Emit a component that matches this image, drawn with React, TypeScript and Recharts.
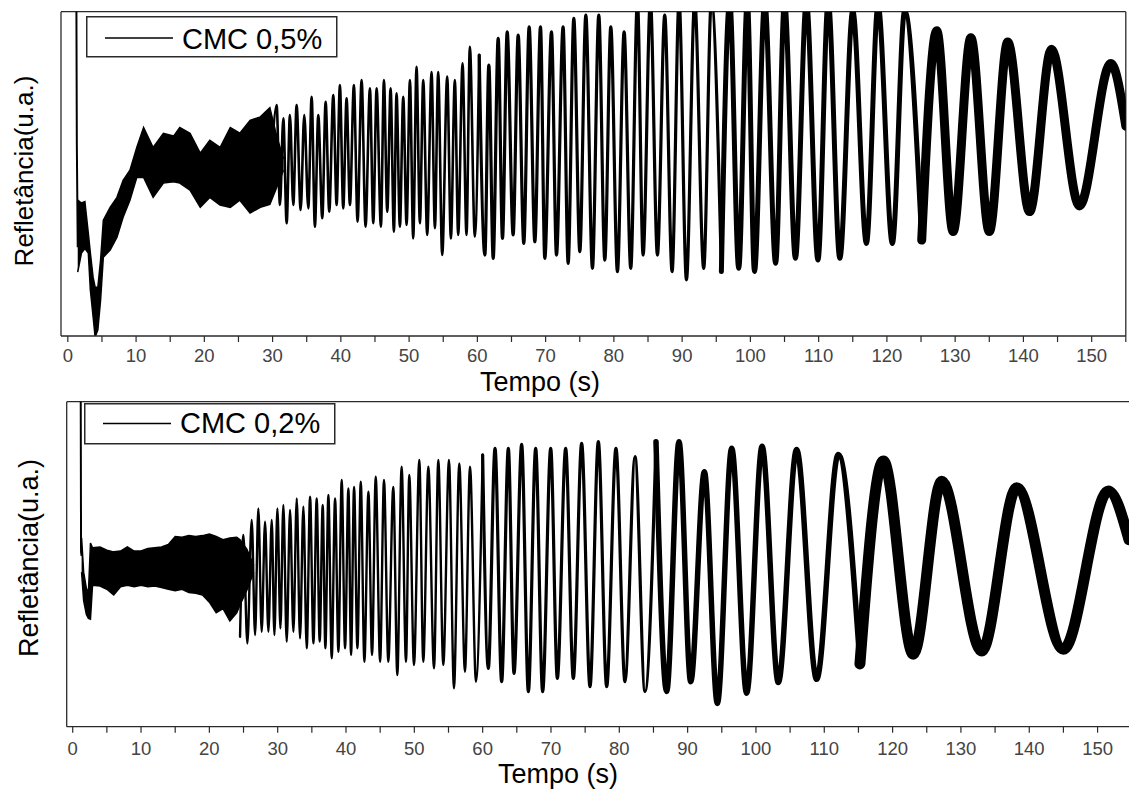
import React from "react";
import { ComposedChart, Line, Area, XAxis, YAxis, ReferenceLine, Legend } from "recharts";

const FONT = "'Liberation Sans', Arial, sans-serif";
const AXIS = "#2a2a2a";

// ---------- CMC 0,5% (upper panel) ----------
const startT05 = [1.25, 1.32, 1.45];
const startV05 = [24, 13.2, 6.0];

const bandT05 = [1.45, 2.0, 2.5, 3.0, 3.3, 3.7, 4.0, 4.4, 4.8, 5.2, 6.2, 7.2, 8.1, 9.1, 10.1, 11.1, 12.5, 14.0, 15.5, 16.4, 17.9, 19.4, 20.8, 22.3, 23.8, 25.2, 26.7, 28.2, 29.6, 30.6, 31.6];
const bandLo05 = [4.25, 5.6, 5.9, 5.6, 3.0, 1.15, -0.3, 0.2, 2.3, 5.3, 5.8, 6.7, 8.1, 9.3, 10.9, 10.9, 9.5, 10.5, 10.6, 10.5, 10.0, 8.8, 9.5, 8.96, 8.8, 9.3, 8.4, 8.8, 9.0, 10.2, 11.4];
const bandHi05 = [9.3, 9.1, 9.2, 7.0, 5.6, 3.9, 3.2, 3.2, 5.1, 7.9, 8.8, 9.5, 10.7, 11.4, 13.0, 14.4, 13.0, 14.0, 13.8, 14.4, 14.0, 12.6, 13.5, 13.0, 14.4, 14.0, 14.9, 15.15, 15.8, 13.8, 12.2];

// peaks and troughs
const oscT05 = [29.62, 30.59, 31.08, 31.57, 32.06, 32.54, 33.03, 33.52, 34.11, 34.64, 35.23, 35.72, 36.2, 36.69, 37.28, 37.77, 38.3, 38.89, 39.38, 39.86, 40.35, 40.84, 41.33, 41.91, 42.45, 43.04, 43.62, 44.26, 44.75, 45.24, 45.87, 46.31, 46.8, 47.29, 47.77, 48.16, 48.65, 49.14, 49.63, 50.12, 50.6, 51.09, 51.58, 52.07, 52.65, 53.29, 53.78, 54.26, 54.85, 55.58, 56.12, 56.7, 57.19, 57.83, 58.41, 58.9, 59.63, 60.27, 61.1, 61.68, 62.32, 63.05, 63.68, 64.37, 65.24, 65.98, 66.8, 67.59, 68.42, 69.25, 69.88, 70.86, 71.59, 72.56, 73.3, 74.13, 75.01, 75.89, 76.86, 77.79, 78.67, 79.55, 80.52, 81.5, 82.47, 83.45, 84.28, 85.35, 86.38, 87.45, 88.53, 89.55, 90.63, 91.84, 93.16, 94.28, 95.75, 96.97, 98.29, 99.55, 100.6, 102.1, 103.7, 105.0, 106.6, 108.2, 109.9, 111.4, 113.1, 115.0, 117.0, 118.7, 120.8, 122.6, 125.1, 127.3, 129.7, 132.3, 135.0, 137.7, 140.9, 144.1, 148.2, 152.8, 155.0];
const oscV05 = [9.43, 15.98, 8.96, 15.04, 7.68, 15.28, 8.96, 15.98, 8.61, 15.28, 8.73, 16.56, 7.44, 15.28, 8.03, 16.21, 8.49, 16.68, 8.96, 17.38, 8.73, 16.45, 8.96, 17.38, 7.8, 17.73, 7.44, 17.15, 7.68, 17.15, 7.44, 17.73, 8.49, 17.15, 7.09, 16.8, 7.44, 16.56, 7.56, 17.73, 6.62, 18.67, 7.68, 17.73, 6.86, 18.3, 7.33, 18.3, 5.45, 17.97, 6.62, 17.73, 6.86, 18.9, 6.86, 20.07, 6.74, 19.49, 5.45, 18.79, 5.22, 20.66, 6.62, 21.12, 6.86, 20.89, 6.27, 21.47, 6.39, 21.47, 5.22, 21.12, 5.45, 21.47, 4.87, 22.06, 5.69, 22.29, 4.52, 22.29, 5.1, 21.47, 4.29, 21.12, 4.52, 23.3, 5.45, 23.3, 5.45, 22.29, 4.29, 23.3, 3.71, 23.3, 4.52, 23.3, 4.29, 23.3, 4.52, 23.3, 4.3, 23.3, 4.87, 23.3, 5.22, 23.3, 5.1, 23.3, 5.22, 22.6, 6.27, 23.0, 6.27, 22.6, 6.5, 21.2, 7.1, 20.7, 7.1, 20.4, 8.5, 19.9, 8.9, 18.9, 14.5];

// ---------- CMC 0,2% (lower panel) ----------
const startT02 = [1.17, 1.22, 1.3];
const startV02 = [3.6, 1.55, 1.5];

const bandT02 = [1.3, 1.6, 2.0, 2.3, 2.6, 2.9, 4, 5, 6, 7, 8, 9, 10, 11, 12, 13, 14, 15, 16, 17, 18, 19, 20, 21, 22, 23, 24, 24.5, 25.5, 26.5];
const bandLo02 = [1.3, 0.95, 0.78, 0.73, 0.72, 1.14, 1.13, 1.09, 1.02, 1.12, 1.14, 1.12, 1.14, 1.12, 1.13, 1.11, 1.09, 1.07, 1.09, 1.05, 1.04, 1.02, 0.93, 0.8, 0.85, 0.7, 0.8, 0.9, 1.08, 1.3];
const bandHi02 = [1.72, 1.3, 1.1, 1.05, 1.66, 1.6, 1.61, 1.57, 1.55, 1.56, 1.61, 1.56, 1.56, 1.59, 1.6, 1.61, 1.64, 1.74, 1.73, 1.75, 1.74, 1.75, 1.77, 1.74, 1.7, 1.72, 1.73, 1.7, 1.58, 1.38];

const oscT02 = [24.49, 24.98, 25.56, 26.2, 26.69, 27.17, 27.66, 28.15, 28.64, 29.13, 29.52, 29.96, 30.4, 30.83, 31.32, 31.81, 32.3, 32.79, 33.27, 33.76, 34.25, 34.74, 35.23, 35.71, 36.15, 36.59, 36.98, 37.42, 37.91, 38.4, 38.89, 39.37, 39.86, 40.35, 40.74, 41.18, 41.67, 42.16, 42.69, 43.28, 43.81, 44.35, 44.99, 45.56, 46.19, 46.92, 47.51, 48.14, 48.78, 49.26, 49.95, 50.73, 51.31, 52.05, 52.88, 53.51, 54.24, 55.07, 55.8, 56.58, 57.41, 58.15, 59.02, 60.0, 60.83, 61.81, 62.78, 63.76, 64.59, 65.71, 66.69, 67.76, 68.78, 69.96, 70.93, 72.15, 73.27, 74.49, 75.71, 76.93, 78.15, 79.51, 80.83, 82.3, 83.76, 85.37, 86.93, 88.74, 90.45, 92.45, 94.35, 96.45, 98.64, 100.9, 103.27, 105.95, 108.88, 112.05, 115.22, 118.64, 123.03, 127.18, 133.04, 138.16, 144.99, 151.58, 154.6];
const oscV02 = [0.505, 1.757, 0.423, 1.942, 0.526, 2.086, 0.567, 1.921, 0.567, 1.942, 0.526, 2.086, 0.608, 2.127, 0.444, 2.065, 0.567, 2.209, 0.485, 2.106, 0.362, 2.23, 0.423, 2.209, 0.444, 2.127, 0.362, 2.25, 0.239, 2.209, 0.32, 2.434, 0.362, 2.33, 0.28, 2.35, 0.362, 2.414, 0.197, 2.291, 0.28, 2.475, 0.197, 2.434, 0.197, 2.35, 0.033, 2.6, 0.197, 2.496, 0.156, 2.681, 0.197, 2.6, 0.115, 2.681, 0.156, 2.681, -0.13, 2.64, 0.074, 2.6, -0.049, 2.743, 0.115, 2.825, -0.049, 2.825, 0.054, 2.874, -0.17, 2.825, -0.17, 2.825, -0.008, 2.825, -0.008, 2.886, -0.11, 2.907, -0.11, 2.825, -0.049, 2.722, -0.17, 2.907, -0.17, 2.907, -0.049, 2.537, -0.316, 2.825, -0.19, 2.85, -0.06, 2.81, -0.02, 2.75, 0.17, 2.67, 0.29, 2.42, 0.33, 2.34, 0.35, 2.3, 1.7];

// axis ticks
const timeTicks05 = [0, 5, 10, 15, 20, 25, 30, 35, 40, 45, 50, 55, 60, 65, 70, 75, 80, 85, 90, 95, 100, 105, 110, 115, 120, 125, 130, 135, 140, 145, 150, 155];
const timeTicks02 = [0, 5, 10, 15, 20, 25, 30, 35, 40, 45, 50, 55, 60, 65, 70, 75, 80, 85, 90, 95, 100, 105, 110, 115, 120, 125, 130, 135, 140, 145, 150];
const yTicks05 = [0, 1, 2, 3, 4, 5, 6, 7, 8, 9, 10, 11, 12, 13, 14, 15, 16, 17, 18, 19, 20, 21, 22];
const yTicks02 = [0, 1, 2, 3];

type Pt = { t: number; v: number };
const toPts = (ts: number[], vs: number[]): Pt[] => ts.map((t, i) => ({ t, v: vs[i] }));
const toBand = (ts: number[], lo: number[], hi: number[]) => ts.map((t, i) => ({ t, range: [lo[i], hi[i]] }));
const cut = (pts: Pt[], a: number, b: number) => pts.filter((p) => p.t >= a && p.t <= b);

function TimeTick(props: any) {
  const { x, y, payload } = props;
  if (payload.value % 10 !== 0) return <g />;
  return (
    <text x={x} y={y} dy="0.71em" textAnchor="middle" fontFamily={FONT} fontSize={18.5} fill="#444">
      {payload.value}
    </text>
  );
}

function LegendBox({ label, lineY, textY }: { label: string; lineY: number; textY: number }) {
  return (
    <svg width={252} height={42} style={{ display: "block" }}>
      <rect x={0.75} y={0.75} width={250} height={40} fill="#fff" stroke={AXIS} strokeWidth={1.5} />
      <line x1={19} x2={87} y1={lineY} y2={lineY} stroke="#000" strokeWidth={1.5} />
      <text x={96} y={textY} fontFamily={FONT} fontSize={29} fill="#000">
        {label}
      </text>
    </svg>
  );
}

type PanelProps = {
  top: number;
  marginLeft: number;
  marginRight: number;
  marginBottom: number;
  xDomain: [number, number];
  yDomain: [number, number];
  xTicks: number[];
  yTicks: number[];
  yTickSize: number;
  tickMargin: number;
  start: Pt[];
  band: { t: number; range: number[] }[];
  segments: { pts: Pt[]; w: number }[];
  legend: { label: string; left: number; top: number; lineY: number; textY: number };
  xTitle: { x: number; y: number };
  yTitle: { x: number; y: number; size: number };
  rightBorder: boolean;
};

function Panel(p: PanelProps) {
  return (
    <div style={{ position: "absolute", left: 0, top: p.top }}>
      <ComposedChart
        width={1129}
        height={400}
        margin={{ top: 11.7, right: p.marginRight, bottom: p.marginBottom, left: p.marginLeft }}
      >
        <XAxis
          type="number"
          dataKey="t"
          domain={p.xDomain}
          ticks={p.xTicks}
          interval={0}
          allowDataOverflow
          tick={<TimeTick />}
          tickSize={6}
          tickMargin={p.tickMargin}
          height={60}
          axisLine={{ stroke: AXIS, strokeWidth: 1.3 }}
          tickLine={{ stroke: AXIS, strokeWidth: 1.2 }}
          label={{
            content: () => (
              <text x={p.xTitle.x} y={p.xTitle.y} textAnchor="middle" fontFamily={FONT} fontSize={27} fill="#000">
                Tempo (s)
              </text>
            ),
          }}
        />
        <YAxis
          type="number"
          domain={p.yDomain}
          ticks={p.yTicks}
          interval={0}
          allowDataOverflow
          tick={false}
          tickSize={p.yTickSize}
          width={40}
          axisLine={{ stroke: AXIS, strokeWidth: 1.3 }}
          tickLine={{ stroke: AXIS, strokeWidth: 1.2 }}
          label={{
            content: () => (
              <text
                transform={`translate(${p.yTitle.x},${p.yTitle.y}) rotate(-90)`}
                textAnchor="middle"
                fontFamily={FONT}
                fontSize={p.yTitle.size}
                fill="#000"
              >
                Refletância(u.a.)
              </text>
            ),
          }}
        />
        <ReferenceLine y={p.yDomain[1]} stroke={AXIS} strokeWidth={1.3} />
        {p.rightBorder && <ReferenceLine x={p.xDomain[1]} stroke={AXIS} strokeWidth={1.3} />}
        <Area
          data={p.band}
          dataKey="range"
          type="linear"
          stroke="#000"
          strokeWidth={1.5}
          fill="#000"
          fillOpacity={1}
          isAnimationActive={false}
          dot={false}
          activeDot={false}
        />
        <Line data={p.start} dataKey="v" type="linear" stroke="#000" strokeWidth={2} dot={false} isAnimationActive={false} />
        {p.segments.map((s, i) => (
          <Line
            key={i}
            data={s.pts}
            dataKey="v"
            type="monotone"
            stroke="#000"
            strokeWidth={s.w}
            strokeLinejoin="round"
            strokeLinecap="round"
            dot={false}
            activeDot={false}
            isAnimationActive={false}
          />
        ))}
        <Legend
          verticalAlign="middle"
          align="center"
          content={() => <LegendBox label={p.legend.label} lineY={p.legend.lineY} textY={p.legend.textY} />}
          wrapperStyle={{ left: p.legend.left, top: p.legend.top, width: 252, height: 42 }}
        />
      </ComposedChart>
    </div>
  );
}

export default function App() {
  const osc05 = toPts(oscT05, oscV05);
  const osc02 = toPts(oscT02, oscV02);

  return (
    <div style={{ position: "absolute", left: 0, top: 0, width: 1129, height: 790, background: "#fff", overflow: "hidden" }}>
      <Panel
        top={0}
        marginLeft={21}
        marginRight={3.2}
        marginBottom={4}
        xDomain={[-1, 155]}
        yDomain={[-0.23, 22.53]}
        xTicks={timeTicks05}
        yTicks={yTicks05}
        yTickSize={8}
        tickMargin={7}
        start={toPts(startT05, startV05)}
        band={toBand(bandT05, bandLo05, bandHi05)}
        segments={[
          { pts: cut(osc05, 29.6, 60.3), w: 2.6 },
          { pts: cut(osc05, 60.27, 95.75), w: 3.2 },
          { pts: cut(osc05, 95.75, 125.1), w: 5 },
          { pts: cut(osc05, 125.1, 155), w: 9 },
        ]}
        legend={{ label: "CMC 0,5%", left: 86, top: 16, lineY: 22, textY: 32.5 }}
        xTitle={{ x: 540, y: 391 }}
        yTitle={{ x: 33, y: 171, size: 26 }}
        rightBorder
      />
      <Panel
        top={390}
        marginLeft={26.7}
        marginRight={0}
        marginBottom={3.3}
        xDomain={[-0.88, 154.6]}
        yDomain={[-0.603, 3.399]}
        xTicks={timeTicks02}
        yTicks={yTicks02}
        yTickSize={10}
        tickMargin={8.8}
        start={toPts(startT02, startV02)}
        band={toBand(bandT02, bandLo02, bandHi02)}
        segments={[
          { pts: cut(osc02, 24.4, 60.0), w: 2.4 },
          { pts: cut(osc02, 60.0, 85.37), w: 3.2 },
          { pts: cut(osc02, 85.37, 115.22), w: 5.5 },
          { pts: cut(osc02, 115.22, 155), w: 11 },
        ]}
        legend={{ label: "CMC 0,2%", left: 84, top: 12.7, lineY: 20.6, textY: 30 }}
        xTitle={{ x: 558, y: 393 }}
        yTitle={{ x: 38, y: 168, size: 27 }}
        rightBorder={false}
      />
    </div>
  );
}
